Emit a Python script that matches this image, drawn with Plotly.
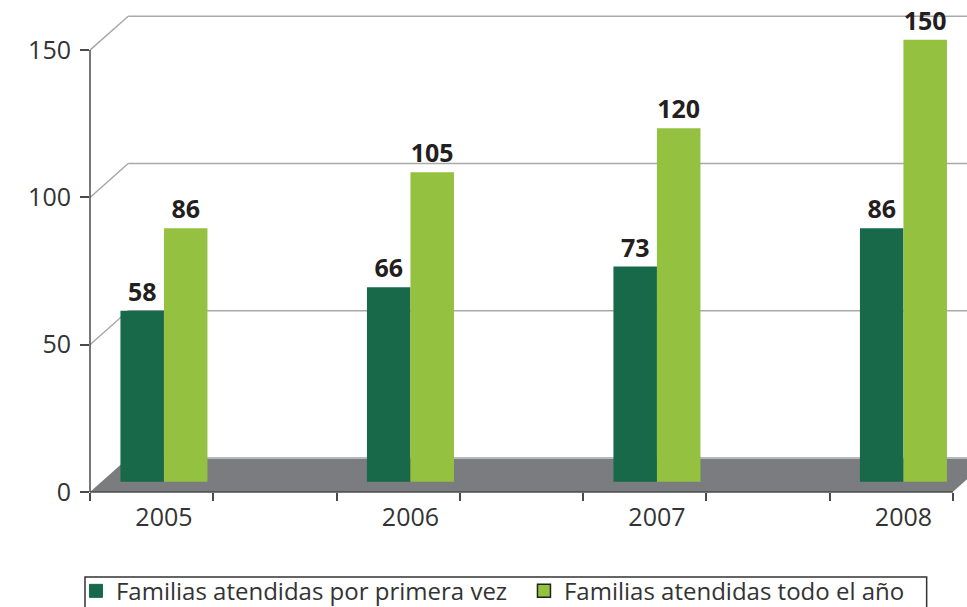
import plotly.graph_objects as go

# ---- data ----
years = ["2005", "2006", "2007", "2008"]
primera_vez = [58, 66, 73, 86]
todo_anio = [86, 105, 120, 150]
y_ticks = [0, 50, 100, 150]
names = ["Familias atendidas por primera vez", "Familias atendidas todo el año"]

# ---- style ----
DARK = "#17694a"
LIGHT = "#94c13f"
FLOOR = "#7b7c80"
GRID = "#a9a9ab"
AXIS = "#4a4a4a"
TXT = "#333333"
FONT = "Open Sans"

# pseudo-3D geometry (in axis units)
X0 = -0.3          # left edge of front plane
X1 = 3.2           # right edge of front floor
DX = 0.155         # depth shift (x)
DZ = 11.5          # depth shift (y)
BASE = 3.5         # bars sit slightly behind front edge

idx = list(range(len(years)))

fig = go.Figure()
fig.add_bar(x=idx, y=primera_vez, base=BASE, marker=dict(color=DARK, line=dict(width=0)),
            name=names[0], showlegend=False, text=primera_vez, textposition="outside",
            texttemplate="<b>%{text}</b>", cliponaxis=False)
fig.add_bar(x=idx, y=todo_anio, base=BASE, marker=dict(color=LIGHT, line=dict(width=0)),
            name=names[1], showlegend=False, text=todo_anio, textposition="outside",
            texttemplate="<b>%{text}</b>", cliponaxis=False)
fig.update_traces(textfont=dict(family=FONT, size=25, color="#231f20"), hoverinfo="skip")

# legend-only entries
fig.add_scatter(x=[None], y=[None], mode="markers", name=names[0],
                marker=dict(symbol="square", size=13, color=DARK, line=dict(color=DARK, width=1)))
fig.add_scatter(x=[None], y=[None], mode="markers", name=names[1],
                marker=dict(symbol="square", size=13, color=LIGHT, line=dict(color="#222222", width=1.5)))

shapes = []
# floor
shapes.append(dict(type="path", xref="x", yref="y", layer="below",
                   path=f"M {X0},0 L {X1},0 L {X1+DX},{DZ} L {X0+DX},{DZ} Z",
                   fillcolor=FLOOR, line=dict(width=0)))
shapes.append(dict(type="line", xref="x", yref="y", layer="below",
                   x0=X0 + DX, x1=X1 + DX, y0=DZ, y1=DZ, line=dict(color="#b8b8ba", width=2)))
# back wall gridlines + side diagonals
for v in y_ticks[1:]:
    shapes.append(dict(type="line", xref="x", yref="y", layer="below",
                       x0=X0 + DX, x1=X1 + 1, y0=v + DZ, y1=v + DZ, line=dict(color=GRID, width=1.5)))
    shapes.append(dict(type="line", xref="x", yref="y", layer="below",
                       x0=X0, x1=X0 + DX, y0=v, y1=v + DZ, line=dict(color=GRID, width=1.5)))
# y axis line
shapes.append(dict(type="line", xref="paper", yref="y", x0=0, x1=0, y0=0, y1=max(y_ticks),
                   line=dict(color=AXIS, width=1.5)))
# x axis line
shapes.append(dict(type="line", xref="x", yref="paper", x0=X0, x1=X1, y0=0, y1=0,
                   line=dict(color=AXIS, width=1.5)))
# legend frame
shapes.append(dict(type="rect", xref="paper", yref="paper", x0=-0.0057, x1=0.954,
                   y0=-0.1728, y1=-0.30, line=dict(color="#333333", width=1.5),
                   fillcolor="rgba(0,0,0,0)"))

PX_PER_CAT = 246.5
PLOT_W = 877
fig.update_layout(
    width=967, height=607,
    margin=dict(l=90, r=0, t=0, b=115, autoexpand=False),
    paper_bgcolor="white", plot_bgcolor="white",
    barmode="group", bargap=0.647, bargroupgap=0,
    shapes=shapes,
    font=dict(family=FONT, color=TXT),
    xaxis=dict(range=[X0, X0 + PLOT_W / PX_PER_CAT], tickvals=idx, ticktext=years,
               ticks="", showgrid=False, zeroline=False, showline=False, automargin=False,
               tickfont=dict(size=25, color=TXT), ticklabelstandoff=8,
               minor=dict(tickvals=[X0 + 0.5 * k for k in range(8)], ticks="outside",
                          ticklen=8, tickwidth=1.5, tickcolor=AXIS, showgrid=False)),
    yaxis=dict(range=[0, 167], tickvals=y_ticks, ticks="outside", ticklen=9, tickwidth=1.5,
               tickcolor=AXIS, showgrid=False, zeroline=False, showline=False, automargin=False,
               tickfont=dict(size=25, color=TXT), ticklabelstandoff=4),
    legend=dict(orientation="h", x=-0.016, xanchor="left", y=-0.156, yanchor="top",
                borderwidth=0, bgcolor="rgba(0,0,0,0)",
                font=dict(size=24, color=TXT), itemwidth=30, tracegroupgap=0,
                entrywidth=403, entrywidthmode="pixels"),
    showlegend=True,
)

fig.write_html("out.html", config={"displayModeBar": False},
               post_script="document.body.style.margin='0';document.body.style.padding='0';")
